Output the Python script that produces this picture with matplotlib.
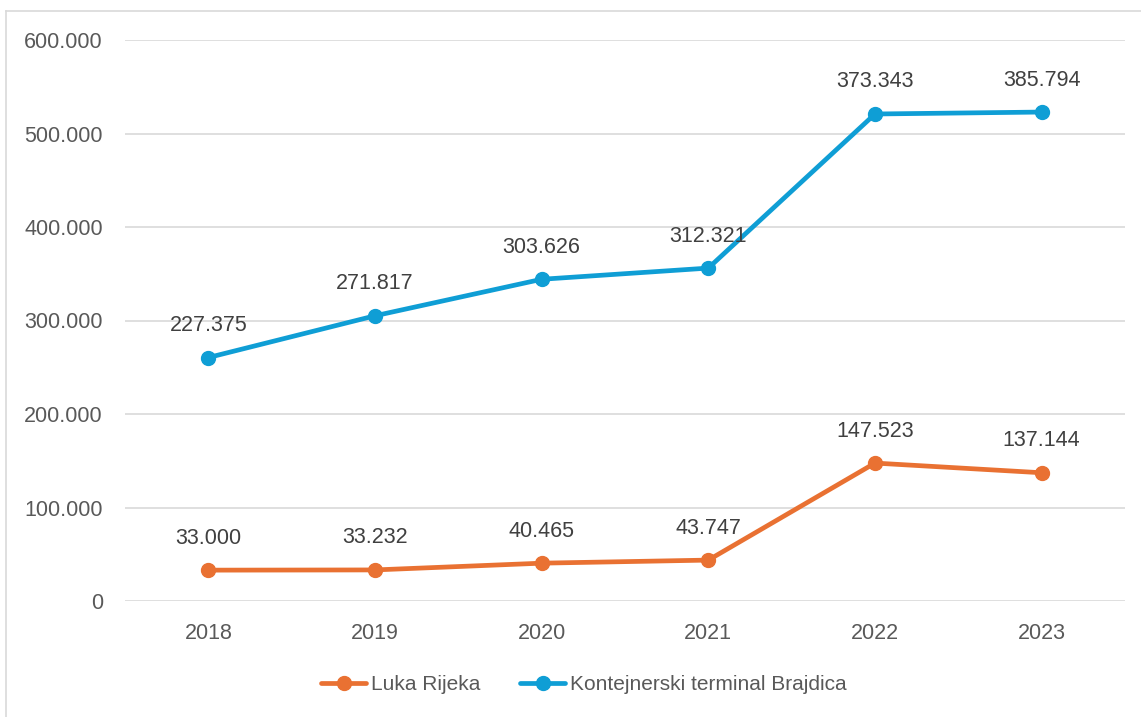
import matplotlib.pyplot as plt
from matplotlib.lines import Line2D
import numpy as np

years = ['2018', '2019', '2020', '2021', '2022', '2023']
luka = [33000, 33232, 40465, 43747, 147523, 137144]
brajdica = [227375, 271817, 303626, 312321, 373343, 385794]

def fmt(v):
    return f'{v:,}'.replace(',', '.')

W, H = 1141, 717
fig = plt.figure(figsize=(W / 100, H / 100), dpi=100)
ax = fig.add_axes([125 / W, 1 - 601 / H, (1125 - 125) / W, (601 - 40) / H])

x = np.arange(len(years))
# stacked line chart: blue is drawn on top of orange
stacked = np.array(luka) + np.array(brajdica)

orange = '#E97132'
blue = '#0F9ED5'
ax.plot(x, luka, color=orange, lw=3.4, marker='o', ms=10, label='Luka Rijeka', solid_capstyle='round')
ax.plot(x, stacked, color=blue, lw=3.4, marker='o', ms=10, label='Kontejnerski terminal Brajdica', solid_capstyle='round')

for xi, y, v in zip(x, luka, luka):
    ax.annotate(fmt(v), (xi, y), xytext=(0, 32), textcoords='offset pixels',
                ha='center', va='center', fontsize=15.5, color='#404040', family='Liberation Sans')
for xi, y, v in zip(x, stacked, brajdica):
    ax.annotate(fmt(v), (xi, y), xytext=(0, 32), textcoords='offset pixels',
                ha='center', va='center', fontsize=15.5, color='#404040', family='Liberation Sans')

ax.set_xlim(-0.5, 5.5)
ax.set_ylim(0, 600000)
yt = np.arange(0, 600001, 100000)
ax.set_yticks(yt)
ax.set_yticklabels(['0' if v == 0 else fmt(v) for v in yt])
ax.set_xticks(x)
ax.set_xticklabels(years)
ax.tick_params(length=0, labelsize=15.5, labelcolor='#595959')
ax.tick_params(axis='x', pad=16)
ax.tick_params(axis='y', pad=16)
for lab in ax.get_xticklabels() + ax.get_yticklabels():
    lab.set_family('Liberation Sans')
ax.grid(axis='y', color='#D9D9D9', lw=1.2)
ax.set_axisbelow(True)
for s in ax.spines.values():
    s.set_visible(False)

leg = fig.legend(loc='center', bbox_to_anchor=(584 / W, 1 - 685 / H), ncol=2, frameon=False,
                 prop={'family': 'Liberation Sans', 'size': 15},
                 handlelength=2.15, columnspacing=1.9, handletextpad=0.25)
for t in leg.get_texts():
    t.set_color('#595959')

# chart frame (only left and top edges visible in the reference)
fig.add_artist(Line2D([6 / W, 6 / W], [0, 1 - 11 / H], transform=fig.transFigure, color='#D9D9D9', lw=1.2))
fig.add_artist(Line2D([6 / W, 1], [1 - 11 / H, 1 - 11 / H], transform=fig.transFigure, color='#D9D9D9', lw=1.2))

fig.savefig('out.png', dpi=100)
